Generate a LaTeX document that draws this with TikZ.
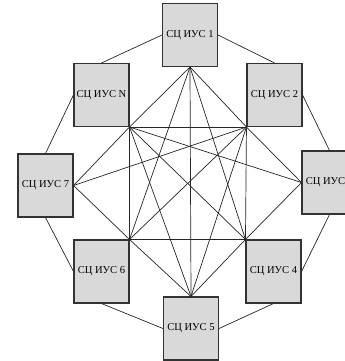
\documentclass[tikz,border=0pt]{standalone}
\usepackage{fontspec}
\setmainfont{Liberation Serif}
\begin{document}
\begin{tikzpicture}[
  x=0.03cm,y=-0.03cm,
  box/.style={draw=black!80,fill=gray!30,line width=0.9pt,minimum width=1.65cm,minimum height=1.89cm,inner sep=0,font=\fontsize{9}{10}\selectfont},
  link/.style={black!85,line width=0.6pt},
]
  \useasboundingbox (0,0) rectangle (345,361);
  \clip (0,0) rectangle (345,361);
  \foreach \n/\x/\y in {1/190/35,N/101.5/95,2/274.5/95,7/45.5/185.5,6/101.5/271.5,4/273.5/271.5,5/191/328.5}
    \node[box] (s\n) at (\x,\y) {СЦ ИУС \n};
  \node[box] (s3) at (329.5,182.5) {СЦ ИУС\phantom{~3}};
  % outer ring
  \foreach \a/\b in {s1.west/sN.north,s1.east/s2.north,sN.west/s7.north,s2.east/s3.north,s7.south/s6.west,s3.south/s4.east,s6.south/s5.west,s4.south/s5.east}
    \draw[link] (\a) -- (\b);
  % inner mesh
  \coordinate (p1) at (s1.south);
  \coordinate (pN) at (sN.south east);
  \coordinate (p2) at (s2.south west);
  \coordinate (p7) at (s7.east);
  \coordinate (p3) at (s3.west);
  \coordinate (p6) at (s6.north east);
  \coordinate (p4) at (s4.north west);
  \coordinate (p5) at (s5.north);
  \foreach \a/\b in {pN/p2,pN/p6,p2/p4,p6/p4,pN/p4,p2/p6,p1/pN,p1/p2,p1/p6,p1/p4,p1/p5,p5/p6,p5/p4,p5/pN,p5/p2,p7/pN,p7/p2,p7/p6,p3/p2,p3/pN,p3/p4}
    \draw[link] (\a) -- (\b);
\end{tikzpicture}
\end{document}
